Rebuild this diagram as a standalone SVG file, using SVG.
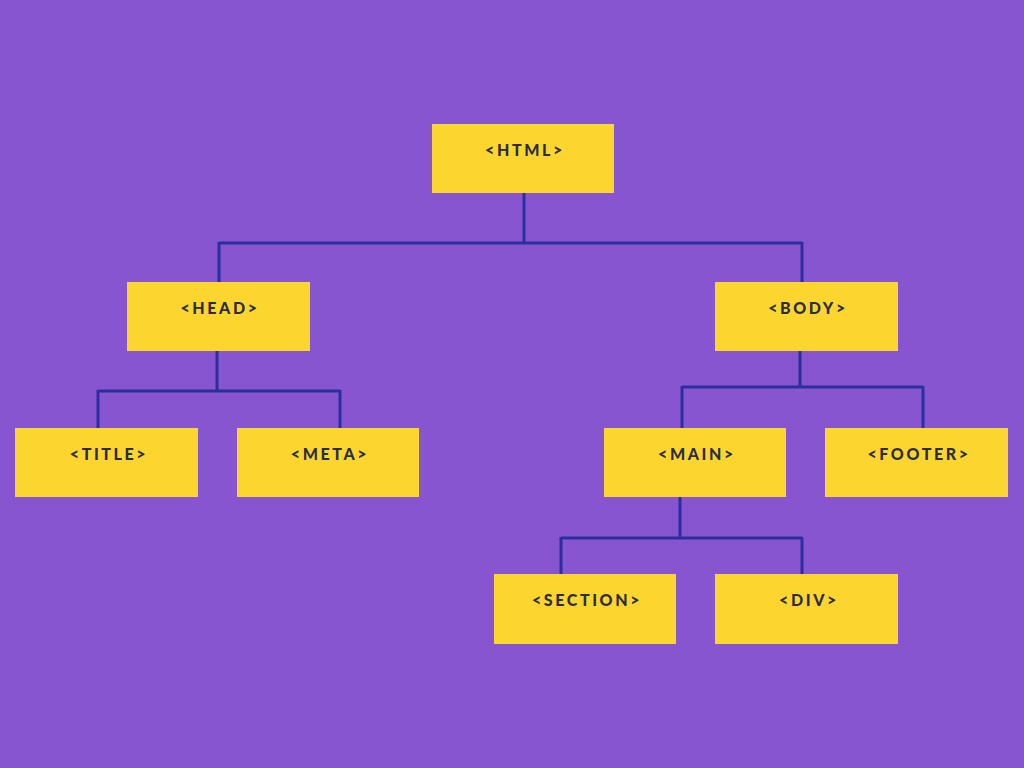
<svg xmlns="http://www.w3.org/2000/svg" width="1024" height="768" viewBox="0 0 1024 768">
<style>
.box{fill:#fdd52f;}
.lbl{font-family:Lato,"Open Sans","DejaVu Sans",sans-serif;font-weight:900;font-size:16px;letter-spacing:2.6px;fill:#2b2d45;text-anchor:middle;}
.con{stroke:#2b2f9e;stroke-width:3;fill:none;}
</style>
<rect width="1024" height="768" fill="#8855d0"/>
<g id="connectors">
<path class="con" d="M524 193V243M219 243H802M219 242V282M802 242V282"/>
<path class="con" d="M217 351V391M98 391H340M98 390V428M340 390V428"/>
<path class="con" d="M800 351V387M682 387H923M682 386V428M923 386V428"/>
<path class="con" d="M680 497V538M561 538H802M561 537V574M802 537V574"/>
</g>
<g id="html"><rect class="box" x="432" y="124" width="182" height="69"/><text class="lbl" x="525" y="156">&lt;HTML&gt;</text></g>
<g id="head"><rect class="box" x="127" y="282" width="183" height="69"/><text class="lbl" x="220" y="314">&lt;HEAD&gt;</text></g>
<g id="body"><rect class="box" x="715" y="282" width="183" height="69"/><text class="lbl" x="808" y="314">&lt;BODY&gt;</text></g>
<g id="title"><rect class="box" x="15" y="428" width="183" height="69"/><text class="lbl" x="109" y="460">&lt;TITLE&gt;</text></g>
<g id="meta"><rect class="box" x="237" y="428" width="182" height="69"/><text class="lbl" x="330" y="460">&lt;META&gt;</text></g>
<g id="main"><rect class="box" x="604" y="428" width="182" height="69"/><text class="lbl" x="697" y="460">&lt;MAIN&gt;</text></g>
<g id="footer"><rect class="box" x="825" y="428" width="183" height="69"/><text class="lbl" x="919" y="460">&lt;FOOTER&gt;</text></g>
<g id="section"><rect class="box" x="494" y="574" width="182" height="70"/><text class="lbl" x="587" y="606">&lt;SECTION&gt;</text></g>
<g id="div"><rect class="box" x="715" y="574" width="183" height="70"/><text class="lbl" x="809" y="606">&lt;DIV&gt;</text></g>
</svg>
